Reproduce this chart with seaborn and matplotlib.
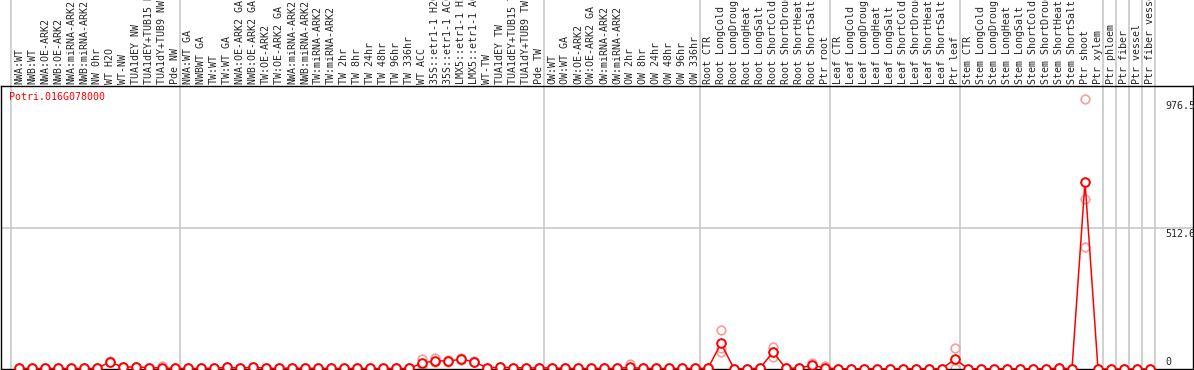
import numpy as np
import pandas as pd
import matplotlib
matplotlib.use('Agg')
import matplotlib.pyplot as plt
import seaborn as sns

# Категории (подписи сверху)
categories = [
    'NWA:WT', 'NWB:WT', 'NWA:OE-ARK2', 'NWB:OE-ARK2', 'NWA:miRNA-ARK2', 'NWB:miRNA-ARK2',
    'NW 0hr', 'WT H2O', 'WT-NW', 'TUA1dEY NW', 'TUA1dEY+TUB15 NW', 'TUA1dY+TUB9 NW', 'Pde NW',
    'NWA:WT GA', 'NWBWT GA', 'TW:WT', 'TW:WT GA', 'NWA:OE-ARK2 GA', 'NWB:OE-ARK2 GA',
    'TW:OE-ARK2', 'TW:OE-ARK2 GA', 'NWA:miRNA-ARK2', 'NWB:miRNA-ARK2', 'TW:miRNA-ARK2',
    'TW:miRNA-ARK2', 'TW 2hr', 'TW 8hr', 'TW 24hr', 'TW 48hr', 'TW 96hr', 'TW 336hr', 'WT ACC',
    '35S::etr1-1 H2O', '35S::etr1-1 ACC', 'LMX5::etr1-1 H2O', 'LMX5::etr1-1 ACC', 'WT-TW',
    'TUA1dEY TW', 'TUA1dEY+TUB15 TW', 'TUA1dY+TUB9 TW', 'Pde TW',
    'OW:WT', 'OW:WT GA', 'OW:OE-ARK2', 'OW:OE-ARK2 GA', 'OW:miRNA-ARK2', 'OW:miRNA-ARK2',
    'OW 2hr', 'OW 8hr', 'OW 24hr', 'OW 48hr', 'OW 96hr', 'OW 336hr',
    'Root CTR', 'Root LongCold', 'Root LongDrought', 'Root LongHeat', 'Root LongSalt',
    'Root ShortCold', 'Root ShortDrought', 'Root ShortHeat', 'Root ShortSalt', 'Ptr root',
    'Leaf CTR', 'Leaf LongCold', 'Leaf LongDrought', 'Leaf LongHeat', 'Leaf LongSalt',
    'Leaf ShortCold', 'Leaf ShortDrought', 'Leaf ShortHeat', 'Leaf ShortSalt', 'Ptr leaf',
    'Stem CTR', 'Stem LongCold', 'Stem LongDrought', 'Stem LongHeat', 'Stem LongSalt',
    'Stem ShortCold', 'Stem ShortDrought', 'Stem ShortHeat', 'Stem ShortSalt', 'Ptr shoot',
    'Ptr xylem', 'Ptr phloem', 'Ptr fiber', 'Ptr vessel', 'Ptr fiber vessel',
]

# Средние значения экспрессии
mean_expr = [
    2, 2, 2, 2, 2, 2, 2, 26, 6, 8, 5, 4, 2,
    2, 2, 3, 6, 3, 6, 3, 2, 4, 2, 3, 2, 2, 2, 2, 2, 2, 2,
    21, 30, 29, 35, 27, 4, 6, 5, 4, 4,
    4, 2, 2, 2, 2, 2, 6, 2, 2, 2, 2, 2,
    3, 93, 1, 1, 3, 61, 2, 4, 13, 4,
    1, 1, 1, 1, 1, 1, 1, 1, 1, 36,
    1, 1, 1, 1, 1, 1, 1, 3, 1, 678.5,
    0, 0, 0, 0, 0,
]

# Повторности
rep1 = [
    2, 2, 2, 2, 2, 2, 2, 28, 6, 8, 5, 11, 2,
    2, 2, 3, 6, 3, 6, 3, 2, 4, 2, 3, 2, 2, 2, 2, 2, 2, 2,
    36, 40, 32, 40, 29, 4, 6, 5, 4, 4,
    4, 2, 2, 2, 2, 2, 17, 2, 2, 2, 2, 2,
    3, 141, 1, 1, 3, 80, 2, 4, 20, 11,
    1, 1, 1, 1, 1, 1, 1, 1, 1, 75,
    1, 1, 1, 1, 1, 1, 1, 3, 1, 976.5,
    0, 0, 0, 0, 0,
]
rep2 = [
    2, 2, 2, 2, 2, 2, 2, 25, 6, 8, 5, 0, 2,
    2, 2, 3, 6, 3, 6, 3, 2, 4, 2, 3, 2, 2, 2, 2, 2, 2, 2,
    14, 25, 27, 33, 26, 4, 6, 5, 4, 4,
    4, 2, 2, 2, 2, 2, 0, 2, 2, 2, 2, 2,
    3, 63, 1, 1, 3, 43, 2, 4, 10, 0,
    1, 1, 1, 1, 1, 1, 1, 1, 1, 2,
    1, 1, 1, 1, 1, 1, 1, 3, 1, 617,
    0, 0, 0, 0, 0,
]
rep3 = [
    2, 2, 2, 2, 2, 2, 2, 25, 6, 8, 5, 1, 2,
    2, 2, 3, 6, 3, 6, 3, 2, 4, 2, 3, 2, 2, 2, 2, 2, 2, 2,
    13, 25, 28, 32, 26, 4, 6, 5, 4, 4,
    4, 2, 2, 2, 2, 2, 1, 2, 2, 2, 2, 2,
    3, 75, 1, 1, 3, 60, 2, 4, 9, 1,
    1, 1, 1, 1, 1, 1, 1, 1, 1, 31,
    1, 1, 1, 1, 1, 1, 1, 3, 1, 442,
    0, 0, 0, 0, 0,
]

# Границы групп (после индекса)
group_ends = [-1, 12, 40, 52, 62, 72, 83, 84, 85, 86, 87]

gene_name = 'Potri.016G078000'
y_marks = [0, 512.6, 976.5]
y_max = 1025.2

sns.set_style('white')
plt.rcParams['font.family'] = ['DejaVu Sans Mono']

W, H = 1194, 370
fig = plt.figure(figsize=(W / 100, H / 100), dpi=100)
left, right, top, bottom = 1, 1193, 86, 369
ax = fig.add_axes([left / W, 1 - bottom / H, (right - left) / W, (bottom - top) / H])

x = np.arange(len(categories))
df = pd.DataFrame({'x': x, 'mean': mean_expr})
reps = pd.DataFrame({'x': np.concatenate([x, x, x]),
                     'val': rep1 + rep2 + rep3})

red = '#ff0000'
pink = '#f2a0a0'

# разделители групп и линия сетки
for g in group_ends:
    ax.axvline(g + 0.42, ymin=0, ymax=1 + top / (bottom - top), color='#c8c8c8',
               lw=1.2, clip_on=False, zorder=0)
ax.axhline(y_marks[1], color='#c8c8c8', lw=1.2, zorder=0)

# повторности
sns.scatterplot(data=reps, x='x', y='val', marker='+', s=55, color=pink,
                linewidth=0.9, ax=ax, zorder=2, legend=False)
sns.scatterplot(data=reps, x='x', y='val', marker='o', s=38, facecolor='white',
                edgecolor=pink, linewidth=1.2, ax=ax, zorder=2, legend=False)

# линия средних
sns.lineplot(data=df, x='x', y='mean', color=red, lw=1.1, ax=ax, zorder=3)
sns.scatterplot(data=df, x='x', y='mean', marker='+', s=55, color=red,
                linewidth=0.9, ax=ax, zorder=4, legend=False)
sns.scatterplot(data=df, x='x', y='mean', marker='o', s=38, facecolor='white',
                edgecolor=red, linewidth=1.4, ax=ax, zorder=4, legend=False)

ax.set_xlim((left - 19) / 13, (right - 19) / 13)
ax.set_ylim(0, y_max)

ax.xaxis.tick_top()
ax.set_xticks(x)
ax.set_xticklabels(categories, rotation=90, fontsize=7.2)
ax.tick_params(axis='x', length=0, pad=1.5)
ax.set_yticks([])
ax.set_xlabel('')
ax.set_ylabel('')

for sp in ax.spines.values():
    sp.set_color('black')
    sp.set_linewidth(1)

# подписи оси Y справа
x_lab = (1165 - 19) / 13
ax.text(x_lab, y_marks[0] + 8, '0', fontsize=7.2, va='bottom', ha='left')
for v in y_marks[1:]:
    ax.text(x_lab, v - 4, f'{v}', fontsize=7.2, va='top', ha='left')

ax.text((9 - 19) / 13, 1 - 11 / (bottom - top), gene_name, color=red, fontsize=7.2,
        va='center', ha='left', transform=ax.get_xaxis_transform())

fig.savefig('out.png', dpi=100)
